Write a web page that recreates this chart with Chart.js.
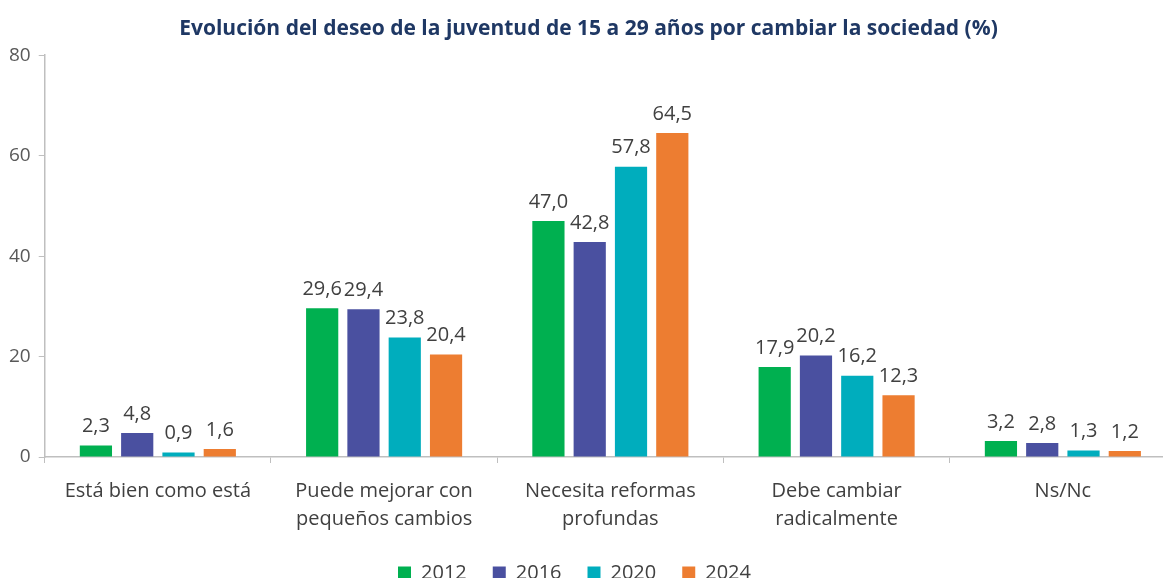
<!DOCTYPE html>
<html>
<head>
<meta charset="utf-8">
<script src="https://cdn.jsdelivr.net/npm/chart.js@4"></script>
<style>
	html, body { margin: 0; padding: 0; background: #fff; overflow: hidden; }
	#wrap { position: relative; width: 1176px; height: 607px; }
</style>
</head>
<body>
<div id="wrap"><canvas id="grafico"></canvas></div>
<script>
const categorias = [
	'Está bien como está',
	['Puede mejorar con', 'pequeños cambios'],
	['Necesita reformas', 'profundas'],
	['Debe cambiar', 'radicalmente'],
	'Ns/Nc'
];
const anos = ['2012', '2016', '2020', '2024'];
const valores2012 = [2.3, 29.6, 47.0, 17.9, 3.2];
const valores2016 = [4.8, 29.4, 42.8, 20.2, 2.8];
const valores2020 = [0.9, 23.8, 57.8, 16.2, 1.3];
const valores2024 = [1.6, 20.4, 64.5, 12.3, 1.2];
const cores = ['#00b050', '#4a50a0', '#00adbd', '#ed7d31'];

const fonte = '"Open Sans", sans-serif';

// rótulos de valor acima das barras, com vírgula decimal
const rotulosPlugin = {
	id: 'rotulos',
	afterDatasetsDraw(chart) {
		const ctx = chart.ctx;
		ctx.save();
		ctx.font = '20px ' + fonte;
		ctx.fillStyle = '#404040';
		ctx.textAlign = 'center';
		ctx.textBaseline = 'middle';
		chart.data.datasets.forEach((ds, i) => {
			chart.getDatasetMeta(i).data.forEach((barra, j) => {
				ctx.fillText(ds.data[j].toFixed(1).replace('.', ','), barra.x, barra.y - 19);
			});
		});
		ctx.restore();
	}
};

// desloca a legenda um pouco para a esquerda e para cima
const legendaPlugin = {
	id: 'ajusteLegenda',
	afterLayout(chart) {
		chart.legend.left -= 14;
		chart.legend.right -= 14;
		chart.legend.top -= 10;
		chart.legend.bottom -= 10;
	}
};

window.onload = () => {
	const ctx = document.getElementById('grafico');
	new Chart(ctx, {
		type: 'bar',
		data: {
			labels: categorias,
			datasets: [valores2012, valores2016, valores2020, valores2024].map((v, i) => ({
				label: anos[i],
				data: v,
				backgroundColor: cores[i],
				categoryPercentage: 0.73,
				barPercentage: 0.78
			}))
		},
		options: {
			responsive: true,
			maintainAspectRatio: false,
			animation: false,
			layout: { padding: { left: 1, right: 0, top: 0, bottom: 4 } },
			scales: {
				x: {
					grid: { display: true, drawOnChartArea: false, drawTicks: true, tickLength: 6, color: '#bfbfbf', offset: true },
					border: { color: '#bfbfbf', width: 1.5 },
					ticks: { color: '#404040', font: { family: fonte, size: 20, lineHeight: 1.4 }, padding: 14, maxRotation: 0, autoSkip: false }
				},
				y: {
					min: 0,
					max: 80,
					ticks: { stepSize: 20, color: '#595959', font: { family: fonte, size: 19 }, padding: 8 },
					grid: { display: true, drawOnChartArea: false, drawTicks: true, tickLength: 6, color: '#bfbfbf' },
					border: { color: '#bfbfbf', width: 1.5 }
				}
			},
			plugins: {
				title: {
					display: true,
					text: 'Evolución del deseo de la juventud de 15 a 29 años por cambiar la sociedad (%)',
					color: '#1f3864',
					font: { family: fonte, size: 21, weight: 'bold' },
					padding: { top: 16, bottom: 14 }
				},
				legend: {
					position: 'bottom',
					labels: {
						color: '#404040',
						font: { family: fonte, size: 20 },
						boxWidth: 13,
						boxHeight: 13,
						padding: 26
					}
				},
				tooltip: { enabled: false }
			}
		},
		plugins: [rotulosPlugin, legendaPlugin]
	});
};
</script>
</body>
</html>
